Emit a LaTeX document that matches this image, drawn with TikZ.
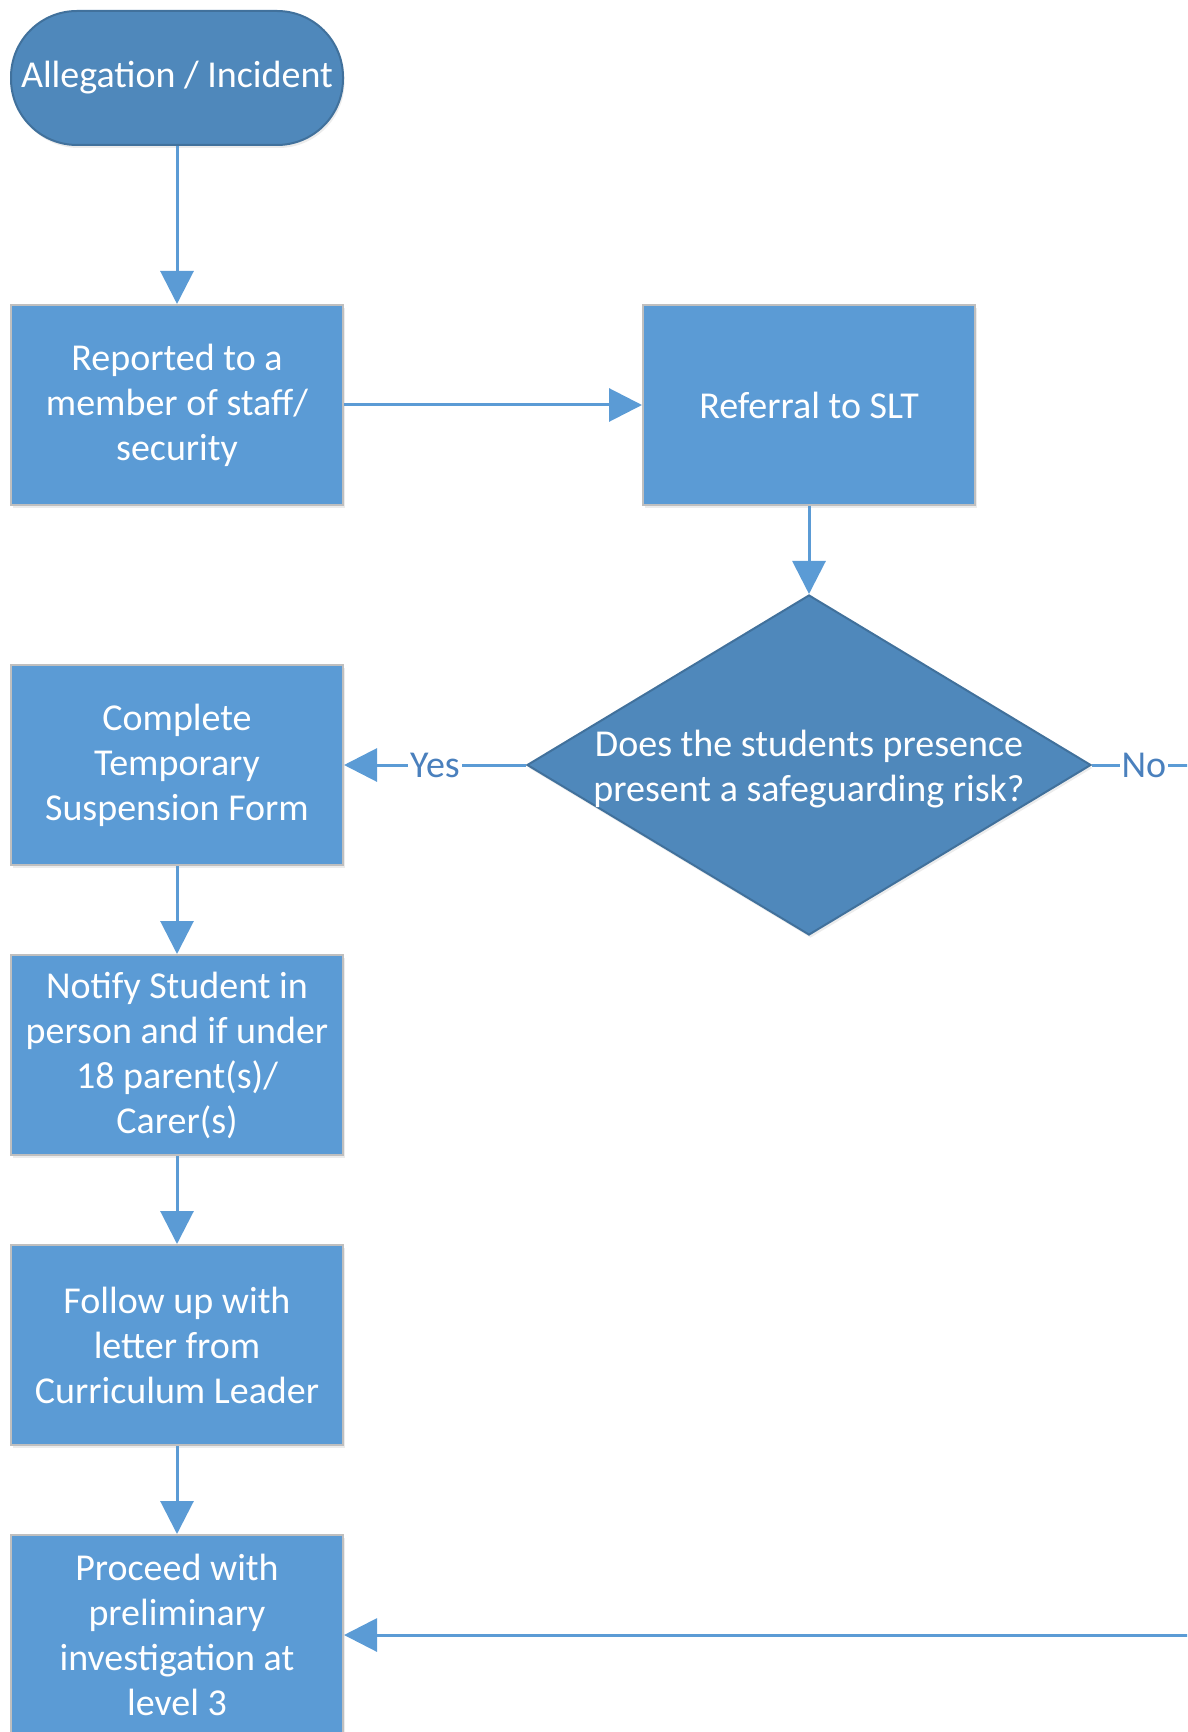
\documentclass[tikz,border=0pt]{standalone}
\usepackage{fontspec}
\setmainfont{Carlito}
\usetikzlibrary{arrows.meta, shapes.geometric, shadows}
\definecolor{boxblue}{HTML}{5B9BD5}
\definecolor{darkblue}{HTML}{4F88BB}
\definecolor{edgeblue}{HTML}{41719C}
\definecolor{boxedge}{HTML}{BFBFBF}
\definecolor{labelblue}{HTML}{4A80BD}

\begin{document}
\begin{tikzpicture}[x=0.5pt, y=-0.5pt,
  txt/.style={text=white, font=\fontsize{19}{22.5}\selectfont},
  soft/.style={drop shadow={opacity=0.15, shadow xshift=0.8pt, shadow yshift=-1.5pt}},
  procbox/.style={rectangle, fill=boxblue, draw=boxedge, line width=1pt, minimum width=166pt, minimum height=100pt, align=center, inner sep=0pt, txt, soft},
  termbox/.style={rectangle, rounded corners=33pt, fill=darkblue, draw=edgeblue, line width=1pt, minimum width=166pt, minimum height=67pt, inner sep=0pt, txt, soft},
  decbox/.style={diamond, fill=darkblue, draw=edgeblue, line width=1pt, minimum width=282pt, minimum height=170pt, inner sep=0pt, soft},
  flow/.style={draw=boxblue, line width=1.5pt, -{Triangle[width=16.5pt,length=16.5pt]}},
  answer/.style={fill=white, text=labelblue, inner sep=1pt, font=\fontsize{19}{22.5}\selectfont}]
          \useasboundingbox (0,0) rectangle (1187,1732);
          \clip (0,0) rectangle (1187,1732);
          \node[termbox] (s) at (177,78) {Allegation / Incident};
          \node[procbox] (r) at (177,405) {Reported to a\\member of staff/\\security};
          \node[procbox] (slt) at (809,405) {Referral to SLT};
          \node[decbox, label={[txt, align=center, yshift=-2pt]center:Does the students presence\\present a safeguarding risk?}] (q) at (809,765) {};
          \node[procbox] (f1) at (177,765) {Complete\\Temporary\\Suspension Form};
          \node[procbox] (f2) at (177,1055) {Notify Student in\\person and if under\\18 parent(s)/\\Carer(s)};
          \node[procbox] (f3) at (177,1345) {Follow up with\\letter from\\Curriculum Leader};
          \node[procbox] (f4) at (177,1635) {Proceed with\\preliminary\\investigation at\\level 3};
          \coordinate (n1) at (1240,765);
          \coordinate (n2) at (1240,1635);
          \draw[flow] (s) -- (r);
          \draw[flow] (r) -- (slt);
          \draw[flow] (slt) -- (q);
          \draw[flow] (q.west) -- (f1) node[answer, pos=0.5] {Yes};
          \draw[flow] (f1) -- (f2);
          \draw[flow] (f2) -- (f3);
          \draw[flow] (f3) -- (f4);
          \draw[flow] (q.east) -- (n1) node[answer, pos=0.35] {No} -- (n2) -- (f4);
\end{tikzpicture}
\end{document}
